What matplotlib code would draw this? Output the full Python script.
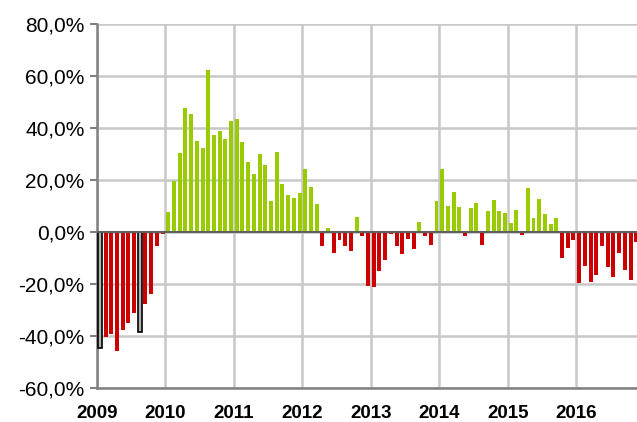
import matplotlib.pyplot as plt
import numpy as np
from matplotlib.ticker import FuncFormatter

plt.rcParams['font.family'] = ['Liberation Sans', 'DejaVu Sans']

# monthly changes (%), Jan 2009 .. Nov 2016
values = [
    -44.5, -40.3, -39.2, -45.6, -37.6, -34.9, -31.0, -38.3, -27.7, -23.7, -5.3, -0.6,   # 2009
    7.7, 19.6, 30.4, 47.7, 45.4, 35.0, 32.3, 62.3, 37.3, 38.8, 35.8, 42.7,              # 2010
    43.5, 34.6, 26.9, 22.3, 30.0, 25.8, 11.9, 30.8, 18.5, 14.2, 13.1, 15.0,             # 2011
    24.2, 17.3, 10.8, -5.4, 1.5, -8.1, -3.1, -5.4, -7.3, 5.8, -1.7, -20.8,              # 2012
    -21.2, -15.0, -10.8, -0.8, -5.4, -8.5, -2.7, -6.5, 3.8, -1.5, -5.0, 11.9,           # 2013
    24.2, 10.0, 15.4, 9.6, -1.5, 9.2, 11.2, -5.0, 8.1, 12.3, 8.1, 7.3,                  # 2014
    3.5, 8.5, -1.2, 16.9, 5.4, 12.7, 6.9, 3.1, 5.4, -10.0, -6.2, -3.1,                  # 2015
    -19.6, -13.1, -19.2, -16.5, -5.4, -13.5, -17.3, -8.1, -14.6, -18.5, -3.8,           # 2016
]
highlighted = [0, 7]  # months drawn with black outline
years = list(range(2009, 2017))

red = '#cc0000'
green = '#99cc00'

fig = plt.figure(figsize=(6.37, 4.22), dpi=100)
ax = fig.add_axes([0.1523, 0.0806, 0.860, 0.8626])

x = 2009 + np.arange(len(values)) / 12 + 0.012
colors = [green if v > 0 else red for v in values]
bars = ax.bar(x, values, width=0.058, align='edge', color=colors, zorder=3)
for i in highlighted:
    bars[i].set_facecolor('#b4b4b4')
    bars[i].set_edgecolor('black')
    bars[i].set_linewidth(1.2)

ax.axhline(0, color='#606060', linewidth=1.5, zorder=4)

ax.set_xlim(2009, 2017)
ax.set_ylim(-60, 80)
ax.set_yticks(np.arange(-60, 81, 20))
ax.yaxis.set_major_formatter(FuncFormatter(lambda v, p: f'{v:.1f}%'.replace('.', ',')))
ax.set_xticks(years)
ax.set_xticklabels([str(y) for y in years], fontweight='bold', fontsize=13.5)
ax.tick_params(axis='y', labelsize=15, length=5, width=1.5, color='#808080', pad=4)
ax.tick_params(axis='x', length=0, pad=12)

ax.grid(True, color='#c8c8c8', linewidth=1.8, zorder=0)
ax.set_axisbelow(True)
for s in ['top', 'right']:
    ax.spines[s].set_visible(False)
ax.spines['left'].set_color('#808080')
ax.spines['left'].set_linewidth(1.8)
ax.spines['bottom'].set_color('#808080')
ax.spines['bottom'].set_linewidth(1.8)

fig.savefig('out.png', dpi=100)
